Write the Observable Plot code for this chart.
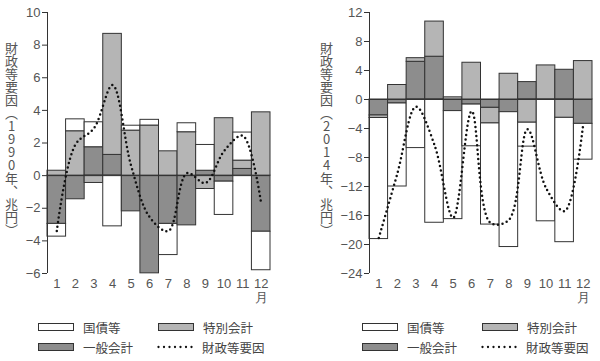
<!DOCTYPE html>
<html>
<head>
<meta charset="utf-8">
<script src="https://cdn.jsdelivr.net/npm/d3@7"></script>
<script src="https://cdn.jsdelivr.net/npm/@observablehq/plot@0.6"></script>
<style>
  body { margin: 0; background: #fff; }
  #wrap { position: relative; width: 600px; height: 361px; overflow: hidden; font-family: "Noto Sans CJK JP", "Noto Sans", sans-serif; }
  .panel { position: absolute; top: 0; width: 300px; height: 300px; }
  .panel svg { overflow: visible; }
  .ytitle { position: absolute; writing-mode: vertical-rl; text-orientation: upright; font-size: 13px; line-height: 1; color: #555; font-family: "Noto Sans CJK JP", sans-serif; }
  .leg { position: absolute; display: flex; align-items: center; font-size: 12.5px; color: #444; height: 16px; white-space: nowrap; }
  .sw { width: 36px; height: 8px; border: 1px solid #333; box-sizing: border-box; margin-right: 9px; }
</style>
</head>
<body>
<div id="wrap"></div>
<script>
const months = [1, 2, 3, 4, 5, 6, 7, 8, 9, 10, 11, 12];
const seriesNames = ["国債等", "特別会計", "一般会計"];
const lineName = "財政等要因";
const monthUnit = "月";
const titles = ["財政等要因（1990年、兆円）", "財政等要因（2014年、兆円）"];

// 1990
const kokusai1990   = [-0.78, 0.73, 1.53, -3.11, 0.30, 0.35, -1.91, 0.55, 1.58, -2.04, 1.72, -2.36];
const tokubetsu1990 = [0.30, 2.72, -0.45, 7.42, 2.76, 3.07, 1.49, 2.66, -0.82, 3.52, 0.51, 3.88];
const ippan1990     = [-2.96, -1.45, 1.74, 1.27, -2.19, -5.99, -2.96, -3.05, 0.30, -0.37, 0.41, -3.44];
const zaisei1990    = [-3.4, 1.9, 2.9, 5.55, 0.6, -2.55, -3.4, 0.15, -0.45, 1.5, 2.45, -1.73];
const yTicks1990 = [-6, -4, -2, 0, 2, 4, 6, 8, 10];

// 2014
const kokusai2014   = [-16.7, -11.45, -6.7, -17.0, -14.9, -5.75, -13.95, -18.6, -3.3, -16.8, -17.15, -4.94];
const tokubetsu2014 = [-0.35, 2.0, 0.5, 4.85, 0.3, 5.07, -2.15, 3.55, -3.2, 4.7, -2.53, 5.3];
const ippan2014     = [-2.2, -0.55, 5.2, 5.9, -1.6, -0.7, -1.15, -1.75, 2.4, 0.0, 4.1, -3.36];
const zaisei2014    = [-19.1, -10.2, -1.0, -6.3, -16.3, -1.6, -17.0, -16.6, -4.1, -12.2, -15.4, -3.4];
const yTicks2014 = [-24, -20, -16, -12, -8, -4, 0, 4, 8, 12];

const fills = ["#ffffff", "#b5b5b5", "#8d8d8d"];
const edge = "#333";

function panel({kokusai, tokubetsu, ippan, zaisei, yTicks, marginLeft, marginRight}) {
  const rows = [];
  months.forEach((m, i) => {
    rows.push({month: m, series: seriesNames[2], value: ippan[i]});
    rows.push({month: m, series: seriesNames[1], value: tokubetsu[i]});
    rows.push({month: m, series: seriesNames[0], value: kokusai[i]});
  });
  const line = months.map((m, i) => ({month: m, value: zaisei[i]}));
  return Plot.plot({
    width: 300, height: 300,
    marginTop: 12, marginBottom: 27, marginLeft, marginRight,
    style: {fontSize: "13px", fontFamily: "'Liberation Sans', Arial, sans-serif", color: "#555", background: "transparent", overflow: "visible"},
    x: {domain: [0.5, 12.5], axis: null, label: null},
    y: {domain: [yTicks[0], yTicks[yTicks.length - 1]], axis: null, label: null},
    color: {domain: seriesNames, range: fills},
    marks: [
      Plot.rectY(rows, Plot.stackY({x1: d => d.month - 0.5, x2: d => d.month + 0.5, y: "value", fill: "series", stroke: edge, strokeWidth: 1})),
      Plot.ruleY([0], {stroke: edge, strokeWidth: 1}),
      Plot.line(line, {x: "month", y: "value", curve: "catmull-rom", stroke: "#111", strokeWidth: 2.5, strokeDasharray: "0 4.6", strokeLinecap: "round"}),
      Plot.ruleX([0.5], {stroke: edge, strokeWidth: 1}),
      Plot.axisY({ticks: yTicks, tickSize: 5, tickPadding: 2, stroke: edge, label: null}),
      Plot.axisX({ticks: months, tickSize: 0, tickPadding: 5, lineHeight: 1.05, label: null, tickFormat: d => d === 12 ? "12\n" + monthUnit : String(d)})
    ]
  });
}

const wrap = document.getElementById("wrap");

const configs = [
  {left: 0, kokusai: kokusai1990, tokubetsu: tokubetsu1990, ippan: ippan1990, zaisei: zaisei1990, yTicks: yTicks1990, marginLeft: 47, marginRight: 30, titleX: 5},
  {left: 300, kokusai: kokusai2014, tokubetsu: tokubetsu2014, ippan: ippan2014, zaisei: zaisei2014, yTicks: yTicks2014, marginLeft: 69, marginRight: 8, titleX: 320}
];

configs.forEach((c, k) => {
  const div = document.createElement("div");
  div.className = "panel";
  div.style.left = c.left + "px";
  div.appendChild(panel(c));
  wrap.appendChild(div);

  const t = document.createElement("div");
  t.className = "ytitle";
  t.textContent = titles[k];
  t.style.left = c.titleX + "px";
  t.style.top = "42px";
  wrap.appendChild(t);

  const off = k * 324;
  const items = [
    {x: 38, y: 319, fill: fills[0], label: seriesNames[0]},
    {x: 158, y: 319, fill: fills[1], label: seriesNames[1]},
    {x: 38, y: 339, fill: fills[2], label: seriesNames[2]},
    {x: 157, y: 339, fill: null, label: lineName}
  ];
  items.forEach(it => {
    const g = document.createElement("div");
    g.className = "leg";
    g.style.left = (it.x + off) + "px";
    g.style.top = it.y + "px";
    if (it.fill) {
      const s = document.createElement("div");
      s.className = "sw";
      s.style.background = it.fill;
      g.appendChild(s);
    } else {
      const ns = "http://www.w3.org/2000/svg";
      const svg = document.createElementNS(ns, "svg");
      svg.setAttribute("width", 37); svg.setAttribute("height", 8);
      svg.style.marginRight = "8px";
      const l = document.createElementNS(ns, "line");
      l.setAttribute("x1", 1.5); l.setAttribute("x2", 36); l.setAttribute("y1", 4); l.setAttribute("y2", 4);
      l.setAttribute("stroke", "#111"); l.setAttribute("stroke-width", 2.3);
      l.setAttribute("stroke-dasharray", "0 5.5"); l.setAttribute("stroke-linecap", "round");
      svg.appendChild(l);
      g.appendChild(svg);
    }
    const sp = document.createElement("span");
    sp.textContent = it.label;
    g.appendChild(sp);
    wrap.appendChild(g);
  });
});
</script>
</body>
</html>
